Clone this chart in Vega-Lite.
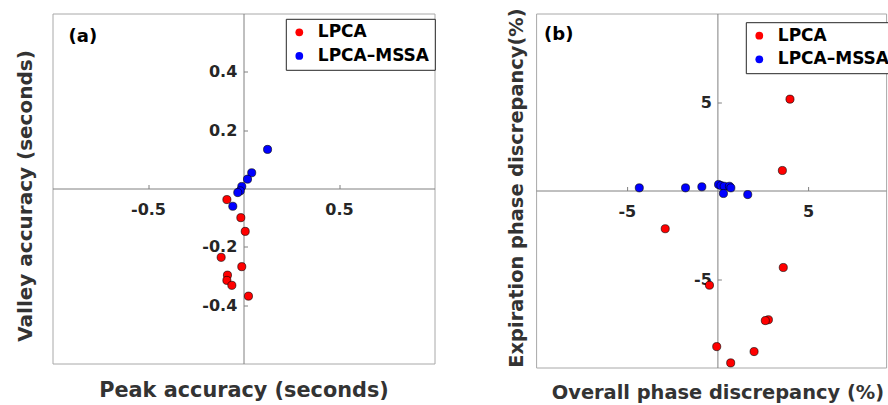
{
  "$schema": "https://vega.github.io/schema/vega-lite/v6.json",
  "background": "white",
  "padding": {"left": 14.5, "top": 6.5, "right": 0, "bottom": 0},
  "bounds": "flush",
  "spacing": 101.6,
  "datasets": {
    "a": [
      {"x": -0.087, "y": -0.038, "method": "LPCA"},
      {"x": -0.014, "y": -0.100, "method": "LPCA"},
      {"x": 0.009, "y": -0.147, "method": "LPCA"},
      {"x": -0.117, "y": -0.236, "method": "LPCA"},
      {"x": -0.009, "y": -0.268, "method": "LPCA"},
      {"x": -0.084, "y": -0.297, "method": "LPCA"},
      {"x": -0.087, "y": -0.315, "method": "LPCA"},
      {"x": -0.061, "y": -0.332, "method": "LPCA"},
      {"x": 0.026, "y": -0.369, "method": "LPCA"},
      {"x": 0.126, "y": 0.134, "method": "LPCA–MSSA"},
      {"x": 0.043, "y": 0.054, "method": "LPCA–MSSA"},
      {"x": 0.021, "y": 0.032, "method": "LPCA–MSSA"},
      {"x": -0.009, "y": 0.007, "method": "LPCA–MSSA"},
      {"x": -0.017, "y": -0.008, "method": "LPCA–MSSA"},
      {"x": -0.030, "y": -0.014, "method": "LPCA–MSSA"},
      {"x": -0.056, "y": -0.061, "method": "LPCA–MSSA"}
    ],
    "b": [
      {"x": 4.0, "y": 5.16, "method": "LPCA"},
      {"x": 3.58, "y": 1.13, "method": "LPCA"},
      {"x": -2.88, "y": -2.16, "method": "LPCA"},
      {"x": 3.63, "y": -4.35, "method": "LPCA"},
      {"x": -0.44, "y": -5.35, "method": "LPCA"},
      {"x": 2.81, "y": -7.30, "method": "LPCA"},
      {"x": 2.64, "y": -7.35, "method": "LPCA"},
      {"x": -0.04, "y": -8.82, "method": "LPCA"},
      {"x": 2.02, "y": -9.10, "method": "LPCA"},
      {"x": 0.73, "y": -9.74, "method": "LPCA"},
      {"x": -4.31, "y": 0.15, "method": "LPCA–MSSA"},
      {"x": -1.76, "y": 0.15, "method": "LPCA–MSSA"},
      {"x": -0.86, "y": 0.21, "method": "LPCA–MSSA"},
      {"x": 0.06, "y": 0.34, "method": "LPCA–MSSA"},
      {"x": 0.19, "y": 0.28, "method": "LPCA–MSSA"},
      {"x": 0.37, "y": 0.24, "method": "LPCA–MSSA"},
      {"x": 0.66, "y": 0.24, "method": "LPCA–MSSA"},
      {"x": 0.74, "y": 0.15, "method": "LPCA–MSSA"},
      {"x": 0.33, "y": -0.17, "method": "LPCA–MSSA"},
      {"x": 1.67, "y": -0.23, "method": "LPCA–MSSA"}
    ]
  },
  "config": {
    "view": {"stroke": "#a8a8a8", "strokeWidth": 1},
    "axis": {
      "grid": false,
      "domainColor": "#808080",
      "domainWidth": 1,
      "tickColor": "#808080",
      "tickWidth": 1,
      "labelFont": "DejaVu Sans",
      "labelFontWeight": "bold",
      "labelFontSize": 16,
      "labelColor": "#262626",
      "labelFlush": false,
      "labelOverlap": false,
      "titleFont": "DejaVu Sans",
      "titleFontWeight": "bold",
      "titleFontSize": 20,
      "titleColor": "#333333"
    },
    "legend": {
      "labelFont": "DejaVu Sans",
      "labelFontWeight": "bold",
      "labelFontSize": 17,
      "labelColor": "#000000",
      "strokeColor": "#262626",
      "fillColor": "white",
      "padding": 5,
      "rowPadding": 5.6,
      "symbolType": "circle",
      "symbolSize": 60,
      "symbolStrokeWidth": 0,
      "labelOffset": 10
    }
  },
  "resolve": {"scale": {"color": "independent"}, "legend": {"color": "independent"}},
  "hconcat": [
    {
      "width": 382,
      "height": 350,
      "encoding": {
        "x": {
          "field": "x", "type": "quantitative",
          "scale": {"domain": [-1, 1], "nice": false, "zero": false},
          "axis": {
            "title": "Peak accuracy (seconds)",
            "values": [-0.5, 0.5],
            "format": ".1f",
            "offset": -175,
            "tickSize": -4,
            "labelPadding": 17,
            "labelExpr": "replace(datum.label, '−', '-')",
            "titleX": 191,
            "titleY": 208,
            "titleFontSize": 20.8,
            "titleBaseline": "alphabetic",
            "titleAlign": "center"
          }
        },
        "y": {
          "field": "y", "type": "quantitative",
          "scale": {"domain": [-0.6, 0.6], "nice": false, "zero": false},
          "axis": {
            "title": "Valley accuracy (seconds)",
            "values": [-0.4, -0.2, 0.2, 0.4],
            "format": ".1f",
            "offset": -191,
            "tickSize": -4,
            "labelPadding": 10.7,
            "labelExpr": "replace(datum.label, '−', '-')",
            "titleX": -212,
            "titleY": 182,
            "titleAngle": -90,
            "titleBaseline": "alphabetic",
            "titleAlign": "center"
          }
        }
      },
      "layer": [
        {
          "data": {"name": "a"},
          "mark": {"type": "point", "filled": true, "size": 66, "stroke": "#000000", "strokeWidth": 0.6, "opacity": 1},
          "encoding": {
            "color": {
              "field": "method", "type": "nominal",
              "scale": {"domain": ["LPCA", "LPCA–MSSA"], "range": ["#ff0000", "#0000ff"]},
              "legend": {"title": null, "orient": "none", "legendX": 233.3, "legendY": 5.3}
            }
          }
        },
        {
          "data": {"values": [{"x": -0.916, "y": 0.518, "label": "(a)"}]},
          "mark": {"type": "text", "align": "left", "baseline": "middle", "font": "DejaVu Sans", "fontWeight": "bold", "fontSize": 18, "color": "#000000"},
          "encoding": {"text": {"field": "label"}}
        }
      ]
    },
    {
      "width": 350,
      "height": 354,
      "encoding": {
        "x": {
          "field": "x", "type": "quantitative",
          "scale": {"domain": [-10, 9.3], "nice": false, "zero": false},
          "axis": {
            "title": "Overall phase discrepancy (%)",
            "values": [-5, 5],
            "format": "d",
            "offset": -177,
            "tickSize": -4,
            "labelPadding": 17,
            "labelExpr": "replace(datum.label, '−', '-')",
            "titleX": 181.3,
            "titleY": 208.3,
            "titleFontSize": 19.4,
            "titleBaseline": "alphabetic",
            "titleAlign": "center"
          }
        },
        "y": {
          "field": "y", "type": "quantitative",
          "scale": {"domain": [-10, 10], "nice": false, "zero": false},
          "axis": {
            "title": "Expiration phase discrepancy(%)",
            "values": [-5, 5],
            "format": "d",
            "offset": -181.3,
            "tickSize": -4,
            "labelPadding": 10,
            "labelExpr": "replace(datum.label, '−', '-')",
            "titleX": -194.6,
            "titleY": 174,
            "titleFontSize": 19.4,
            "titleAngle": -90,
            "titleBaseline": "alphabetic",
            "titleAlign": "center"
          }
        }
      },
      "layer": [
        {
          "data": {"name": "b"},
          "mark": {"type": "point", "filled": true, "size": 66, "stroke": "#000000", "strokeWidth": 0.6, "opacity": 1},
          "encoding": {
            "color": {
              "field": "method", "type": "nominal",
              "scale": {"domain": ["LPCA", "LPCA–MSSA"], "range": ["#ff0000", "#0000ff"]},
              "legend": {"title": null, "orient": "none", "legendX": 209.7, "legendY": 8.7}
            }
          }
        },
        {
          "data": {"values": [{"x": -9.56, "y": 8.81, "label": "(b)"}]},
          "mark": {"type": "text", "align": "left", "baseline": "middle", "font": "DejaVu Sans", "fontWeight": "bold", "fontSize": 18, "color": "#000000"},
          "encoding": {"text": {"field": "label"}}
        }
      ]
    }
  ]
}
